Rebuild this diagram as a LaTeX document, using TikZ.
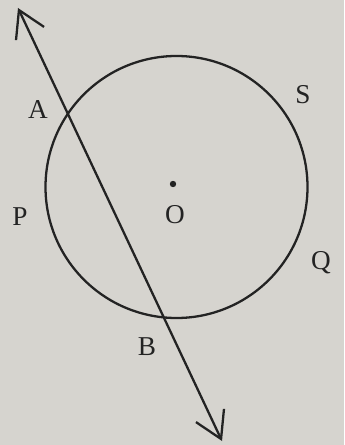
\documentclass[tikz,border=0pt]{standalone}
\usepackage{fontspec}
\setmainfont{Liberation Serif}
\usetikzlibrary{arrows.meta,positioning,calc}
\definecolor{paper}{RGB}{214,212,207}
\definecolor{ink}{RGB}{35,35,35}

\begin{document}
\begin{tikzpicture}[
    x=0.02cm, y=-0.02cm,
    curve/.style={draw=ink, line width=1.3pt},
    secant/.style={draw=ink, line width=1.3pt, {Straight Barb[length=5.2mm,width=6.2mm]}-{Straight Barb[length=5.2mm,width=6.2mm]}},
    lbl/.style={text=ink, font=\fontsize{15.5}{18}\selectfont, inner sep=0pt}
]

% Paper
\fill[paper] (0,0) rectangle (344,445);
\useasboundingbox (0,0) rectangle (344,445);

% Circle and centre
\coordinate (centre) at (176.5,187);
\draw[curve] (centre) circle[radius=131*0.02cm];
\fill[ink] (173,184) circle[radius=3.2*0.02cm];
\node[lbl] (o) at (175,215) {O};

% Secant line through A and B
\coordinate (top) at (18,8);
\coordinate (bottom) at (222,441);
\draw[secant] (top) -- (bottom);

% Points
\node[lbl] (a) at (38,110) {A};
\node[lbl] (b) at (147,347) {B};
\node[lbl] (p) at (20,217) {P};
\node[lbl] (q) at (321,263) {Q};
\node[lbl] (s) at (303,95) {S};

\end{tikzpicture}
\end{document}
